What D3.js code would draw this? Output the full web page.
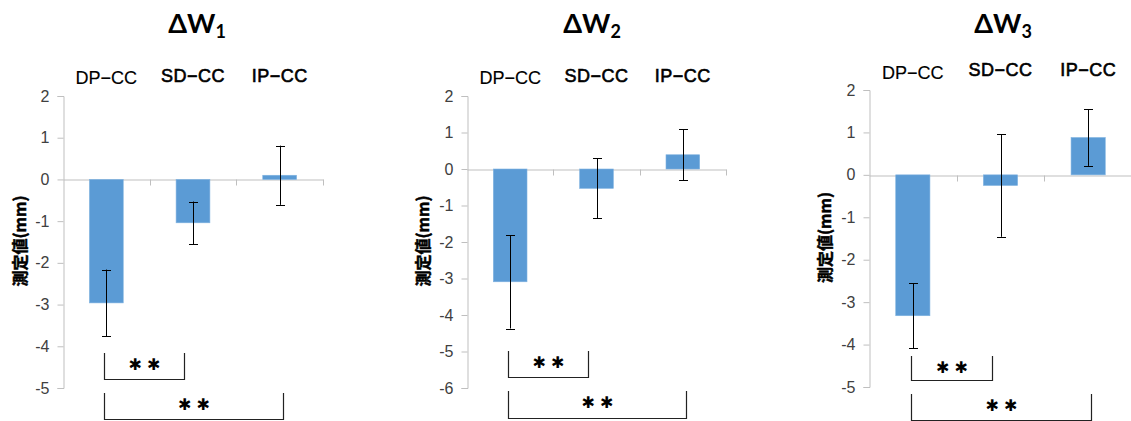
<!DOCTYPE html>
<html>
<head>
<meta charset="utf-8">
<script src="https://cdn.jsdelivr.net/npm/d3@7"></script>
<style>
  body { margin: 0; background: #fff; }
  svg { display: block; }
</style>
</head>
<body>
<svg id="chart" width="1131" height="421"></svg>
<script>
// data
var categories = ["DP\u2212CC", "SD\u2212CC", "IP\u2212CC"];
var subscripts = ["1", "2", "3"];

var meanW1 = [-2.96, -1.04, 0.10];
var errW1 = [0.80, 0.51, 0.71];

var meanW2 = [-3.09, -0.53, 0.39];
var errW2 = [1.28, 0.82, 0.70];

var meanW3 = [-3.32, -0.25, 0.88];
var errW3 = [0.77, 1.21, 0.67];

var yTicks1 = [2, 1, 0, -1, -2, -3, -4, -5];
var yTicks2 = [2, 1, 0, -1, -2, -3, -4, -5, -6];
var yTicks3 = [2, 1, 0, -1, -2, -3, -4, -5];

var sigLabel = "\u2731 \u2731";

// layout of each panel
var panels = [
    {means: meanW1, errs: errW1, ticks: yTicks1, left: 63, right: 323, top: 96, bottom: 388,
     titleX: 197, yLabelX: 20, catY: [84, 82, 82],
     rows: [[353, 379], [393, 419]]},
    {means: meanW2, errs: errW2, ticks: yTicks2, left: 467, right: 726, top: 96, bottom: 388,
     titleX: 592, yLabelX: 423, catY: [84, 82, 82],
     rows: [[351, 377], [391, 418]]},
    {means: meanW3, errs: errW3, ticks: yTicks3, left: 869, right: 1132, top: 90, bottom: 387,
     titleX: 1003, yLabelX: 825, catY: [79, 76, 76],
     rows: [[356, 380], [394, 420]]}
];

var svg = d3.select("#chart");

panels.forEach(function(p, i){
    var g = svg.append("g");

    var x = d3.scaleBand()
        .domain(categories)
        .range([p.left, p.right])
        .padding(0);

    var y = d3.scaleLinear()
        .domain([d3.min(p.ticks), d3.max(p.ticks)])
        .range([p.bottom, p.top]);

    var barW = x.bandwidth() * 0.39;

    // y axis
    var yAxis = d3.axisLeft(y).tickValues(p.ticks).tickSize(6).tickFormat(d3.format("d"));
    var ya = g.append("g")
        .attr("transform", "translate(" + (p.left + 0.5) + ",0)")
        .call(yAxis)
        .attr("font-size", 16)
        .attr("font-family", "'Liberation Sans', Arial, sans-serif");
    ya.select(".domain").attr("stroke", "#bfbfbf");
    ya.selectAll(".tick line").attr("stroke", "#bfbfbf");
    ya.selectAll(".tick text")
        .attr("x", -14)
        .attr("fill", "#404040")
        .text(function(d){ return d < 0 ? "-" + Math.abs(d) : d; });

    // zero line with category ticks
    var xa = g.append("g")
        .attr("transform", "translate(0," + (Math.round(y(0)) + 0.5) + ")")
        .call(d3.axisBottom(x).tickValues([]).tickSizeOuter(0));
    xa.select(".domain").attr("stroke", "#bfbfbf");
    var edges = categories.map(function(c){ return x(c) + x.bandwidth(); });
    xa.selectAll("line.sep")
        .data(edges)
        .enter()
        .append("line")
        .attr("class", "sep")
        .attr("x1", function(d){ return Math.round(d) + 0.5; })
        .attr("x2", function(d){ return Math.round(d) + 0.5; })
        .attr("y1", 0)
        .attr("y2", 6)
        .attr("stroke", "#bfbfbf");

    // bars
    g.selectAll("rect.bar")
        .data(p.means)
        .enter()
        .append("rect")
        .attr("class", "bar")
        .attr("x", function(d, k){ return x(categories[k]) + x.bandwidth()/2 - barW/2; })
        .attr("width", barW)
        .attr("y", function(d){ return y(Math.max(0, d)); })
        .attr("height", function(d){ return Math.abs(y(d) - y(0)); })
        .attr("fill", "#5b9bd5")
        .attr("stroke", "#7fb2e0")
        .attr("stroke-width", 0.6);

    // error bars
    var eb = g.selectAll("g.err")
        .data(p.means)
        .enter()
        .append("g")
        .attr("class", "err")
        .attr("stroke", "#000")
        .attr("stroke-width", 1);
    eb.append("line")
        .attr("x1", function(d, k){ return Math.round(x(categories[k]) + x.bandwidth()/2) + 0.5; })
        .attr("x2", function(d, k){ return Math.round(x(categories[k]) + x.bandwidth()/2) + 0.5; })
        .attr("y1", function(d, k){ return y(d + p.errs[k]); })
        .attr("y2", function(d, k){ return y(d - p.errs[k]); });
    [1, -1].forEach(function(s){
        eb.append("line")
            .attr("x1", function(d, k){ return Math.round(x(categories[k]) + x.bandwidth()/2) - 4; })
            .attr("x2", function(d, k){ return Math.round(x(categories[k]) + x.bandwidth()/2) + 5; })
            .attr("y1", function(d, k){ return Math.round(y(d + s * p.errs[k])) + 0.5; })
            .attr("y2", function(d, k){ return Math.round(y(d + s * p.errs[k])) + 0.5; });
    });

    // category labels above plot
    g.selectAll("text.catLabel")
        .data(categories)
        .enter()
        .append("text")
        .attr("class", "catLabel")
        .attr("x", function(d){ return x(d) + x.bandwidth()/2; })
        .attr("y", function(d, k){ return p.catY[k]; })
        .attr("text-anchor", "middle")
        .attr("font-family", "'Liberation Sans', Arial, sans-serif")
        .attr("font-size", 18)
        .attr("fill", "#000")
        .attr("stroke", "#000")
        .attr("stroke-width", function(d, k){ return k === 0 ? 0.15 : 0.6; })
        .attr("letter-spacing", function(d, k){ return k === 0 ? 0 : 0.5; })
        .text(function(d){ return d; });

    // title
    var t = g.append("text")
        .attr("x", p.titleX)
        .attr("y", 33)
        .attr("text-anchor", "middle")
        .attr("font-family", "Lato, 'Open Sans', sans-serif")
        .attr("font-weight", "bold")
        .attr("font-size", 27)
        .attr("fill", "#000");
    t.append("tspan").text("\u0394W");
    t.append("tspan").attr("dy", 5).attr("font-size", 18).text(subscripts[i]);

    // y axis title
    g.append("text")
        .attr("transform", "translate(" + p.yLabelX + "," + ((p.top + p.bottom) / 2 - 1) + ") rotate(-90)")
        .attr("text-anchor", "middle")
        .attr("dy", "0.35em")
        .attr("font-family", "'Noto Sans CJK JP', sans-serif")
        .attr("font-weight", "bold")
        .attr("font-size", 16)
        .attr("fill", "#000")
        .attr("stroke", "#000")
        .attr("stroke-width", 0.5)
        .text("測定値(mm)");

    // significance brackets
    var c0 = x(categories[0]) + x.bandwidth()/2 - 2;
    var ends = [x(categories[1]) + x.bandwidth()/2 - 9, x(categories[2]) + x.bandwidth()/2 + 3];
    p.rows.forEach(function(r, k){
        var x0 = Math.round(c0) + 0.5, x1 = Math.round(ends[k]) + 0.5;
        g.append("path")
            .attr("d", "M" + x0 + "," + r[0] + "V" + (r[1] + 0.5) + "H" + x1 + "V" + r[0])
            .attr("fill", "none")
            .attr("stroke", "#222")
            .attr("stroke-width", 1.2);
        g.append("text")
            .attr("x", (x0 + x1) / 2)
            .attr("y", r[0] + 17)
            .attr("text-anchor", "middle")
            .attr("font-family", "'DejaVu Sans', sans-serif")
            .attr("font-size", 16)
            .attr("fill", "#000")
            .text(sigLabel);
    });
});
</script>
</body>
</html>
